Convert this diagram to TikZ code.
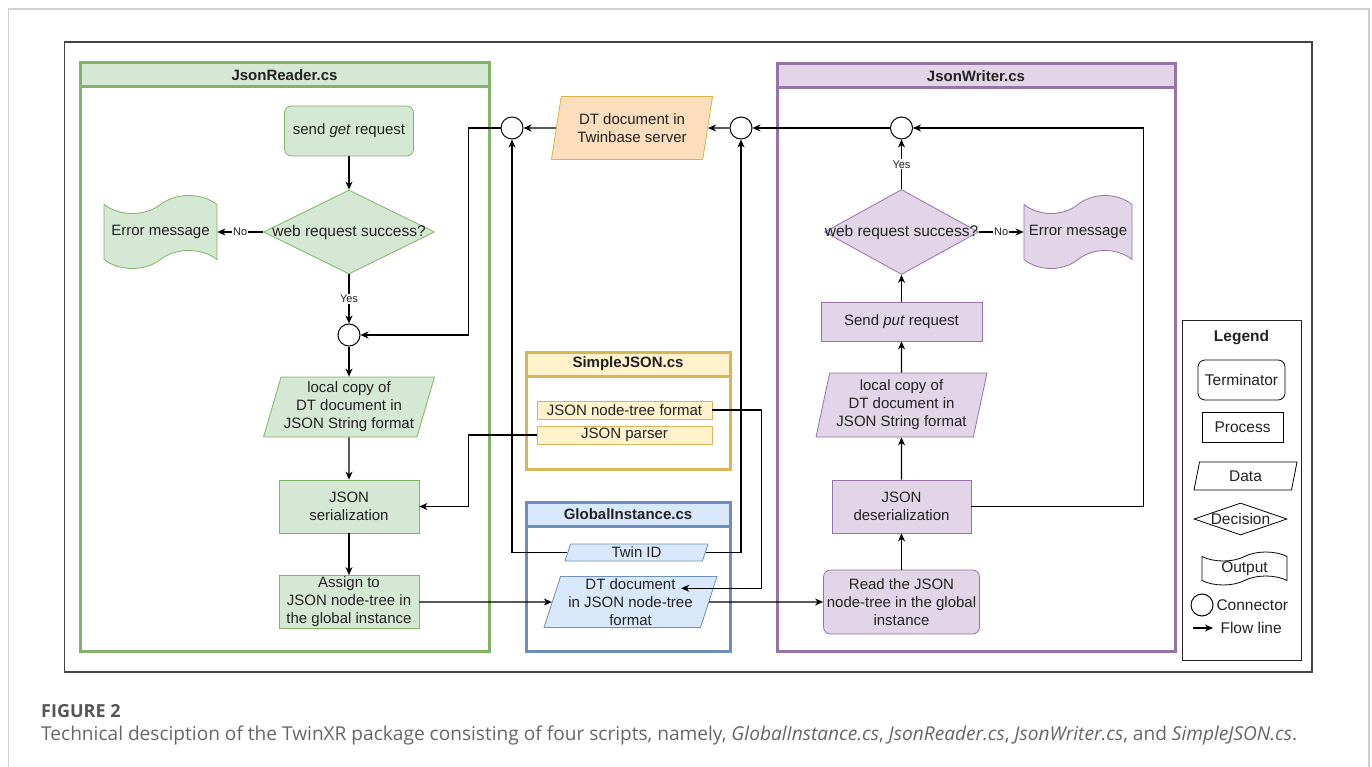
\documentclass[tikz,border=0pt]{standalone}
\usepackage{fontspec}
\setmainfont{Liberation Sans}
\newfontfamily\capfont{Open Sans}
\usetikzlibrary{shapes.geometric,shapes.symbols,arrows.meta,calc}
\definecolor{gfill}{HTML}{D5E8D4}
\definecolor{gline}{HTML}{82B366}
\definecolor{pfill}{HTML}{E1D5E7}
\definecolor{pline}{HTML}{9673A6}
\definecolor{yfill}{HTML}{FFF2CC}
\definecolor{yline}{HTML}{D6B656}
\definecolor{bfill}{HTML}{DAE8FC}
\definecolor{bline}{HTML}{6C8EBF}
\definecolor{ofill}{HTML}{FCDDBC}
\definecolor{oline}{HTML}{D9B24A}
\definecolor{txtc}{HTML}{222222}
\definecolor{framec}{HTML}{444444}
\definecolor{pagec}{HTML}{D0D0D0}
\definecolor{capc}{HTML}{555555}
\definecolor{capt}{HTML}{666666}
\tikzset{
  txt/.style={font=\fontsize{15}{18}\selectfont, text=txtc, align=center},
  proc/.style={txt, rectangle, draw, line width=0.8pt, inner sep=1pt},
  term/.style={proc, rounded corners=7pt},
  datanode/.style={txt, trapezium, trapezium left angle=#1, trapezium right angle={180-#1},
    trapezium stretches body, draw, line width=0.8pt, inner sep=0.5pt},
  dec/.style={diamond, draw, line width=0.8pt, inner sep=0pt},
  outp/.style={tape, draw, line width=0.8pt, inner sep=0pt, tape bend height=18pt},
  conn/.style={circle, draw, line width=1pt, fill=white, inner sep=0pt, minimum size=22pt},
  arr/.style={-{Stealth[length=8pt,width=7pt,inset=2.5pt]}, line width=1.1pt, draw=black},
  lbl/.style={font=\fontsize{11}{12}\selectfont, text=txtc, fill=white, inner sep=1pt},
  panel/.style={draw, line width=3pt, fill=white},
  head/.style={draw, line width=3pt, font=\bfseries\fontsize{15}{17}\selectfont, text=txtc, anchor=north, minimum height=24pt},
  leg/.style={font=\fontsize{15.5}{18}\selectfont, text=txtc},
}
\begin{document}
\begin{tikzpicture}[x=1pt,y=-1pt]
\useasboundingbox (0,0) rectangle (1372,767);
% page frame
\draw[pagec, line width=1.5pt] (8.5,767) -- (8.5,9) -- (1369,9) -- (1369,767);
\draw[framec, line width=1.5pt] (64.5,42) rectangle (1312,672);

% ---------- panels ----------
\node[panel, draw=gline, minimum width=409pt, minimum height=588pt] (rdP) at (284.5,357) {};
\node[head, draw=gline, fill=gfill, minimum width=409pt] (rdH) at (rdP.north) {JsonReader.cs};
\node[panel, draw=pline, minimum width=398pt, minimum height=587pt] (wrP) at (976,357.5) {};
\node[head, draw=pline, fill=pfill, minimum width=398pt] (wrH) at (wrP.north) {JsonWriter.cs};
\node[panel, draw=yline, minimum width=204pt, minimum height=117pt] (sjP) at (628,410.5) {};
\node[head, draw=yline, fill=yfill, minimum width=204pt] (sjH) at (sjP.north) {SimpleJSON.cs};
\node[panel, draw=bline, minimum width=204pt, minimum height=149pt] (giP) at (628,576.5) {};
\node[head, draw=bline, fill=bfill, minimum width=204pt] (giH) at (giP.north) {GlobalInstance.cs};

% ---------- JsonReader ----------
\node[term, draw=gline, fill=gfill, minimum width=129pt, minimum height=50pt] (getreq) at (349,131) {send \textit{get} request};
\node[dec, draw=gline, fill=gfill, minimum width=171pt, minimum height=84pt,
  label={[txt, font=\fontsize{15.5}{18}\selectfont]center:web request success?}] (dec1) at (349,232) {};
\node[outp, draw=gline, fill=gfill, minimum width=113pt, minimum height=73pt,
  label={[txt]center:Error message}] (err1) at (160.5,232) {};
\node[conn] (c1) at (349,335) {};
\node[datanode=71, draw=gline, fill=gfill, minimum width=171pt, minimum height=60pt] (lc1) at (349,407) {local copy of\\DT document in\\JSON String format};
\node[proc, draw=gline, fill=gfill, minimum width=140pt, minimum height=53pt] (ser) at (349,506.5) {JSON\\serialization};
\node[proc, draw=gline, fill=gfill, minimum width=140pt, minimum height=53pt] (assign) at (349,602) {Assign to\\JSON node-tree in\\the global instance};

% ---------- centre ----------
\node[conn] (cL) at (512,128) {};
\node[datanode=72, draw=oline, fill=ofill, minimum width=161pt, minimum height=63pt] (twin) at (632,128) {DT document in\\Twinbase server};
\node[conn] (cR) at (741,128) {};
\node[proc, draw=yline, fill=yfill, minimum width=175pt, minimum height=18pt] (ntf) at (624.5,410) {JSON node-tree format};
\node[proc, draw=yline, fill=yfill, minimum width=175pt, minimum height=18pt] (parser) at (624.5,435) {JSON parser};
\node[datanode=65, draw=bline, fill=bfill, minimum width=143pt, minimum height=17pt] (twinid) at (636.5,552.5) {Twin ID};
\node[datanode=71, draw=bline, fill=bfill, minimum width=173pt, minimum height=51pt] (dtn) at (630.5,602) {DT document\\in JSON node-tree\\format};

% ---------- JsonWriter ----------
\node[conn] (c3) at (901.5,128) {};
\node[dec, draw=pline, fill=pfill, minimum width=154pt, minimum height=85pt,
  label={[txt, font=\fontsize{15.5}{18}\selectfont]center:web request success?}] (dec2) at (901.5,232) {};
\node[outp, draw=pline, fill=pfill, minimum width=108pt, minimum height=73pt,
  label={[txt]center:Error message}] (err2) at (1078,232) {};
\node[proc, draw=pline, fill=pfill, minimum width=161pt, minimum height=39pt] (put) at (901.5,321.5) {Send \textit{put} request};
\node[datanode=75, draw=pline, fill=pfill, minimum width=171pt, minimum height=64pt] (lc2) at (901.5,405) {local copy of\\DT document in\\JSON String format};
\node[proc, draw=pline, fill=pfill, minimum width=139pt, minimum height=53pt] (deser) at (901.5,506.5) {JSON\\deserialization};
\node[term, draw=pline, fill=pfill, minimum width=156pt, minimum height=64pt] (read) at (901.5,602) {Read the JSON\\node-tree in the global\\instance};

% ---------- legend ----------
\node[draw=txtc, line width=1pt, minimum width=119pt, minimum height=340pt] (legend) at (1241.5,490) {};
\node[leg, font=\bfseries\fontsize{15.5}{18}\selectfont] (legT) at (1241.5,338) {Legend};
\node[term, leg, minimum width=87pt, minimum height=40pt] (lterm) at (1241.5,380) {Terminator};
\node[proc, leg, minimum width=81pt, minimum height=30pt] (lproc) at (1242.5,427) {Process};
\node[datanode=65, leg, minimum width=103pt, minimum height=28pt] (ldata) at (1245.5,476) {Data};
\node[dec, minimum width=93pt, minimum height=32pt, label={[leg]center:Decision}] (ldec) at (1240.5,519) {};
\node[outp, tape bend height=9pt, minimum width=85pt, minimum height=33pt, label={[leg]center:Output}] (lout) at (1244.5,568.5) {};
\node[conn] (lconn) at (1202,605) {};
\node[leg, anchor=west] (lconnT) at (1213,605) {Connector};
\coordinate (fla) at (1193,628);
\coordinate (flb) at (1213,628);
\draw[arr] (fla) -- (flb);
\node[leg, anchor=west] (lflowT) at (1217,628) {Flow line};

% ---------- connectors ----------
\draw[arr] (getreq) -- (dec1);
\draw[arr] (dec1) -- node[lbl]{No} (err1);
\draw[arr] (dec1) -- node[lbl]{Yes} (c1);
\draw[arr] (c1) -- (lc1);
\draw[arr] (lc1) -- (ser);
\draw[arr] (ser) -- (assign);
\draw[arr] (assign.east) -- (dtn.west);
\draw[arr] (twin.west) -- (cL.east);
\draw[arr] (cR.west) -- (twin.east);
\draw[arr] (c3.west) -- (cR.east);
\draw[arr] (cL.west) -- ++(-32,0) |- (c1.east);
\draw[arr] (parser.west) -- ++(-68,0) |- (ser.east);
\draw[arr] (twinid.west) -| (cL.south);
\draw[arr] (twinid.east) -| (cR.south);
\draw[arr] (ntf.east) -- ++(49,0) |- ($(dtn.east)!0.53!(dtn.north east)$);
\draw[arr] (dtn.east) -- (read.west);
\draw[arr] (read) -- (deser);
\draw[arr] (deser) -- (lc2);
\draw[arr] (lc2) -- (put);
\draw[arr] (put) -- (dec2);
\draw[arr] (dec2) -- node[lbl]{Yes} (c3);
\draw[arr] (dec2) -- node[lbl]{No} (err2);
\draw[arr] (deser.east) -- ++(172.5,0) |- (c3.east);

% ---------- caption ----------
\node[anchor=base west, inner sep=0pt, font=\capfont\bfseries\fontsize{18}{20}\selectfont, text=capc] (figT) at (41,717) {FIGURE 2};
\node[anchor=base west, inner sep=0pt, font=\capfont\fontsize{19.1}{22}\selectfont, text=capt] (figC) at (41,740) {Technical desciption of the TwinXR package consisting of four scripts, namely, \textit{GlobalInstance.cs}, \textit{JsonReader.cs}, \textit{JsonWriter.cs}, and \textit{SimpleJSON.cs}.};
\end{tikzpicture}
\end{document}
